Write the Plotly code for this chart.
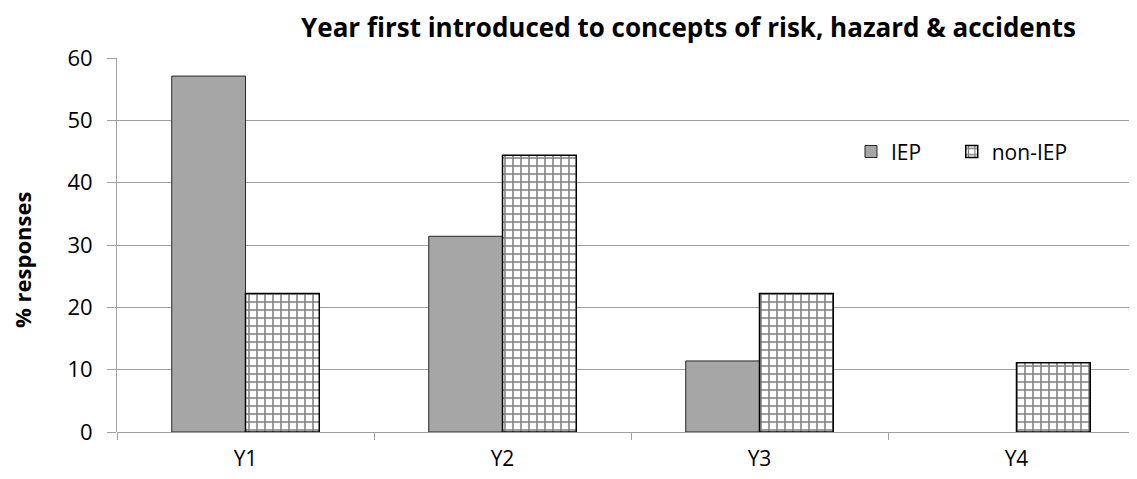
import plotly.graph_objects as go

categories = ["Y1", "Y2", "Y3", "Y4"]
iep = [57.1, 31.4, 11.4, 0]
non_iep = [22.2, 44.4, 22.2, 11.1]

font_family = "Open Sans, Liberation Sans, sans-serif"

fig = go.Figure()
fig.add_trace(go.Bar(
    x=categories, y=iep, name="IEP", legend="legend",
    marker=dict(color="#a6a6a6",
                line=dict(color="#262626", width=[0 if v == 0 else 1 for v in iep])),
))
fig.add_trace(go.Bar(
    x=categories, y=non_iep, name="non-IEP", legend="legend2",
    marker=dict(color="white", line=dict(color="black", width=1.5),
                pattern=dict(shape="+", size=8, solidity=0.35,
                             fgcolor="black", bgcolor="white", fillmode="overlay")),
))

legend_common = dict(orientation="h", y=0.749, xanchor="left", yanchor="middle",
                     bgcolor="rgba(0,0,0,0)", font=dict(size=21), itemwidth=30)

fig.update_layout(
    width=1137, height=479,
    margin=dict(l=109, r=0, t=50, b=55, autoexpand=False),
    paper_bgcolor="white", plot_bgcolor="white",
    barmode="group", bargap=0.426, bargroupgap=0,
    font=dict(family=font_family, size=21, color="black"),
    title=dict(text="<b>Year first introduced to concepts of risk, hazard &amp; accidents</b>",
               x=0.556, xref="paper", xanchor="center", y=0.958, yanchor="middle",
               font=dict(size=26, color="black")),
    showlegend=True,
    legend=dict(x=0.714, **legend_common),
    legend2=dict(x=0.812, **legend_common),
    annotations=[dict(text="<b>% responses</b>", xref="paper", yref="paper",
                      x=-0.0924, y=0.46, xanchor="center", yanchor="middle",
                      textangle=-90, showarrow=False, font=dict(size=22))],
)
fig.update_xaxes(
    range=[-0.5, 3.5], showgrid=False, showline=False,
    ticks="outside", tickson="boundaries", ticklen=7, tickcolor="#a0a0a0",
    tickfont=dict(size=21), ticklabelstandoff=12,
)
fig.update_yaxes(
    range=[0, 60], dtick=10, showgrid=True, gridcolor="#a0a0a0", gridwidth=1,
    showline=True, linecolor="#a0a0a0", linewidth=1,
    zeroline=True, zerolinecolor="#a0a0a0", zerolinewidth=1,
    ticks="outside", ticklen=9, tickcolor="#a0a0a0",
    tickfont=dict(size=22), ticklabelstandoff=10, automargin=False,
)

fig.write_html("out.html")
